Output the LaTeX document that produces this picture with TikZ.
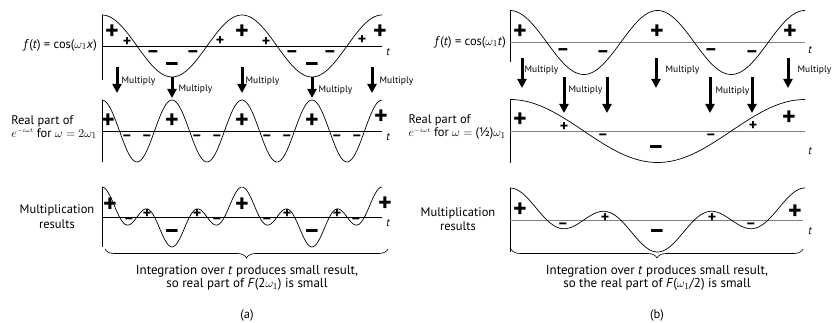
\documentclass[tikz,border=0pt]{standalone}
\usepackage{fontspec}
\setmainfont{PT Sans}
\usetikzlibrary{arrows.meta,decorations.pathreplacing}
\colorlet{axisgray}{black!50}
\tikzset{
  lbl/.style={font=\fontsize{12.5}{12}\selectfont, inner sep=0pt},
  btxt/.style={font=\fontsize{13}{13.5}\selectfont, inner sep=0pt},
  mulbl/.style={font=\fontsize{9.5}{10}\selectfont, inner sep=0.5pt, anchor=west},
  mularrow/.style={line width=3pt, -{Triangle[width=9pt,length=9pt]}},
  bigsign/.style={font=\fontsize{26}{26}\selectfont\bfseries, inner sep=0pt},
  midsign/.style={font=\fontsize{20}{20}\selectfont\bfseries, inner sep=0pt},
  smallsign/.style={font=\fontsize{16}{16}\selectfont\bfseries, inner sep=0pt},
  tlbl/.style={font=\fontsize{11}{11}\selectfont\itshape, inner sep=0pt},
  curve/.style={line width=0.7pt, samples=160, smooth},
  axis/.style={line width=0.7pt},
  brc/.style={line width=0.6pt, decorate, decoration={brace, mirror, amplitude=9pt}}
}

\begin{document}
\begin{tikzpicture}[x=1pt, y=-1pt]
  \useasboundingbox (0,0) rectangle (833,323);

  % (a) axes and curves
  \draw[axis] (102,15) -- (102,80);
  \draw[axis] (102,46) -- (382,46);
  \draw[axis] (102,100) -- (102,162);
  \draw[axis] (102,131) -- (382,131);
  \draw[axis] (102,187) -- (102,247);
  \draw[axis] (102,217) -- (382,217);
  \draw[curve] plot[domain=102:382] (\x,{46-31*cos((\x-102)/140*360)});
  \draw[curve] plot[domain=102:382] (\x,{131-31*cos((\x-102)/70*360)});
  \draw[curve] plot[domain=102:382] (\x,{217-30*cos((\x-102)/140*360)*cos((\x-102)/70*360)});

  % (b) axes and curves
  \draw[axis] (510,10) -- (510,62);
  \draw[axis, axisgray] (510,42.5) -- (805,42.5);
  \draw[axis] (510,100) -- (510,163);
  \draw[axis, axisgray] (510,131) -- (805,131);
  \draw[axis] (510,188) -- (510,252);
  \draw[axis, axisgray] (510,220) -- (803,220);
  \draw[curve] plot[domain=510:805] (\x,{42.5-32*cos((\x-510)/147.5*360)});
  \draw[curve] plot[domain=510:805] (\x,{131-31.5*cos((\x-510)/295*360)});
  \draw[curve] plot[domain=510:805] (\x,{220-32*cos((\x-510)/147.5*360)*cos((\x-510)/295*360)});

  % t labels
  \node[tlbl] (ta1) at (388,52) {t};
  \node[tlbl] (ta2) at (388,137) {t};
  \node[tlbl] (ta3) at (388,223) {t};
  \node[tlbl] (tb1) at (810,50) {t};
  \node[tlbl] (tb2) at (810,151) {t};
  \node[tlbl] (tb3) at (810,231) {t};

  % row labels
  \node[lbl, anchor=east] (fa) at (97,45) {\textit{f}(\textit{t}) = cos($\omega_{1}$\textit{x})};
  \node[lbl, anchor=east, align=left] (ra) at (97,127) {Real part of\\[1pt]$e^{\scriptscriptstyle -i\omega t}$ for $\omega = 2\omega_{1}$};
  \node[lbl, align=center] (ma) at (57,217) {Multiplication\\[3pt]results};
  \node[lbl, anchor=east] (fb) at (506,42) {\textit{f}(\textit{t}) = cos($\omega_{1}$\textit{t})};
  \node[lbl, anchor=east, align=left] (rb) at (506,127) {Real part of\\[1pt]$e^{\scriptscriptstyle -i\omega t}$ for $\omega =$ (½)$\omega_{1}$};
  \node[lbl, align=center] (mb) at (458,219) {Multiplication\\[2pt]results};

  % multiply arrows
  \foreach \x/\ys/\ye/\lx/\ly [count=\i] in {117/67/93/121/81, 172/77/98/178/89, 242/67/93/245/81,
      312/77/98/318/90, 372/67/93/379/81} {
    \coordinate (as\i) at (\x,\ys);
    \coordinate (ae\i) at (\x,\ye);
    \draw[mularrow] (as\i) -- (ae\i);
    \node[mulbl] (al\i) at (\lx,\ly) {Multiply};
  }
  \foreach \x/\ys/\ye [count=\i] in {522/58/88, 564/77/113, 607/77/113, 656/58/88, 710/77/113,
      752/77/113, 788/58/88} {
    \coordinate (bs\i) at (\x,\ys);
    \coordinate (be\i) at (\x,\ye);
    \draw[mularrow] (bs\i) -- (be\i);
  }
  \foreach \lx/\ly [count=\i] in {524/70, 568/90, 665/70, 715/91, 797/70}
    \node[mulbl] (bl\i) at (\lx,\ly) {Multiply};

  % signs (a)
  \foreach \s/\x/\y/\t [count=\i] in {bigsign/112/32/+, smallsign/127/42/+, midsign/153/54/--,
      bigsign/172/67/--, midsign/193/54/--, smallsign/220/41/+, bigsign/242/32/+, smallsign/266/42/+,
      midsign/292/54/--, bigsign/312/67/--, midsign/330/54/--, smallsign/362/40/+, bigsign/380/32/+,
      bigsign/108/121/+, smallsign/127/138/--, smallsign/147/138/--, bigsign/172/121/+,
      smallsign/197/138/--, smallsign/217/138/--, bigsign/242/121/+, smallsign/267/138/--,
      smallsign/287/138/--, bigsign/312/121/+, smallsign/337/138/--, smallsign/357/138/--,
      bigsign/381/117/+,
      bigsign/110/205/+, smallsign/129/221/--, smallsign/147/214/+, bigsign/172/234/--,
      smallsign/197/214/+, smallsign/217/221/--, bigsign/242/205/+, smallsign/267/221/--,
      smallsign/287/214/+, bigsign/312/234/--, smallsign/337/214/+, smallsign/356/221/--,
      bigsign/385/204/+}
    \node[\s] (sa\i) at (\x,\y) {\t};

  % signs (b)
  \foreach \s/\x/\y/\t [count=\i] in {bigsign/520/32/+, midsign/563/52/--, midsign/603/54/--,
      bigsign/657/32/+, midsign/711/52/--, midsign/752/54/--, bigsign/790/32/+,
      bigsign/520/120/+, smallsign/564/127/+, smallsign/603/137/--, bigsign/656/150/--,
      smallsign/711/137/--, smallsign/753/126/+, bigsign/789/118/+,
      bigsign/520/210/+, smallsign/563/226/--, smallsign/605/218/+, bigsign/657/234/--,
      smallsign/712/218/+, smallsign/751/226/--, bigsign/795/212/+}
    \node[\s] (sb\i) at (\x,\y) {\t};

  % braces and results
  \coordinate (bal) at (105,249);
  \coordinate (bar) at (388,249);
  \draw[brc] (bal) -- (bar);
  \node[btxt, align=center] (ia) at (247,278) {Integration over \textit{t} produces small result,\\so real part of \textit{F}(2$\omega_{1}$) is small};
  \coordinate (bbl) at (511,249);
  \coordinate (bbr) at (803,249);
  \draw[brc] (bbl) -- (bbr);
  \node[btxt, align=center] (ib) at (657,278) {Integration over \textit{t} produces small result,\\so the real part of \textit{F}($\omega_{1}$/2) is small};

  \node[lbl] (capa) at (247,315) {(a)};
  \node[lbl] (capb) at (657,315) {(b)};
\end{tikzpicture}
\end{document}
